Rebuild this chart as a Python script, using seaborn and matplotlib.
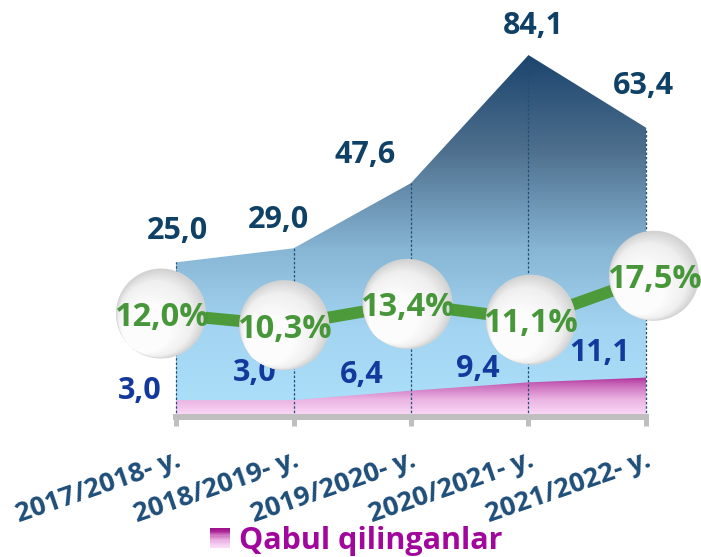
import numpy as np
import pandas as pd
import matplotlib
matplotlib.use("Agg")
import matplotlib.pyplot as plt
import seaborn as sns
from matplotlib.colors import LinearSegmentedColormap, to_rgb
from matplotlib.transforms import ScaledTranslation, blended_transform_factory
from matplotlib.legend_handler import HandlerBase
from matplotlib.patches import Rectangle

# data
years = ["2017/2018- y.", "2018/2019- y.", "2019/2020- y.", "2020/2021- y.", "2021/2022- y."]
total = [25.0, 29.0, 47.6, 84.1, 63.4]          # big blue area
accepted = [3.0, 3.0, 6.4, 9.4, 11.1]            # pink area "Qabul qilinganlar"
share = [12.0, 10.3, 13.4, 11.1, 17.5]           # green line, %

# label offsets in pixels (dx, dy up)
total_off = [(1, 31), (-15, 28), (-46, 28), (5, 29), (-3, 42)]
acc_off = [(-36, 9), (-39, 27), (-49, 16), (-51, 13), (-46, 25)]

NAVY = "#0f4065"
BLUE_TXT = "#12399b"
GREEN = "#4c9a3a"
GREEN_TXT = "#47973a"
TICK_TXT = "#1f4e79"
MAGENTA = "#a1079c"


def fmt(v):
    return f"{v:.1f}".replace(".", ",")


def px(p):
    return p * 0.72


sns.set_theme(style="white")
plt.rcParams["font.family"] = ["Open Sans", "DejaVu Sans"]

df = pd.DataFrame({"year": years, "pos": np.arange(len(years)),
                   "total": total, "accepted": accepted, "share": share})

fig = plt.figure(figsize=(7.01, 5.57), dpi=100)
main_rect = [150 / 701, 140 / 557, 522 / 701, 397 / 557]
ax_tot = fig.add_axes(main_rect, label="total")
ax_acc = fig.add_axes(main_rect, label="accepted")
ax_pct = fig.add_axes([0, 0, 1, 1], label="pct")

xlim_main = (-0.2213, 4.2213)
tot_lim = (-19.1, 94.1)
acc_lim = (-3.06, 139.7)
# share axis spans the whole figure (px 557 at bottom, 0 at top)
pct_lim = (12.86 - (557 - 307.6) / 6.875, 12.86 + 307.6 / 6.875)
pct_xlim = (-161 / 123.25, (701 - 161) / 123.25)

grad = np.linspace(0, 1, 256).reshape(-1, 1)

# ---- big blue area with vertical gradient
blue_cmap = LinearSegmentedColormap.from_list(
    "blue", [(0, "#ade0fa"), (0.22, "#a3d5f2"), (0.42, "#88b6d5"),
             (0.67, "#4e708e"), (0.935, "#17406a"), (1, "#123a60")])
poly = ax_tot.fill_between(df["pos"], df["total"], tot_lim[0], facecolor="none", edgecolor="none")
im = ax_tot.imshow(grad, extent=[*xlim_main, *tot_lim], origin="lower", aspect="auto",
                   cmap=blue_cmap, zorder=0)
im.set_clip_path(poly.get_paths()[0], transform=ax_tot.transData)
ax_tot.set_xlim(xlim_main)
ax_tot.set_ylim(tot_lim)
ax_tot.axis("off")

for xi, v, (dx, dy) in zip(df["pos"], total, total_off):
    ax_tot.annotate(fmt(v), (xi, v), xytext=(px(dx), px(dy)), textcoords="offset points",
                    ha="center", va="center", fontsize=22, fontweight="bold", color=NAVY)

# ---- pink area
pink_colors = [(0, "#fcdcf8"), (0.043, "#eab3e2"), (0.081, "#c867b8"),
               (0.106, "#a3168f"), (0.2, "#8a0078"), (1, "#8a0078")]
pink_cmap = LinearSegmentedColormap.from_list("pink", pink_colors)
ax_acc.patch.set_alpha(0)
poly2 = ax_acc.fill_between(df["pos"], df["accepted"], acc_lim[0], facecolor="none",
                            edgecolor="none", label="Qabul qilinganlar")
im2 = ax_acc.imshow(grad, extent=[*xlim_main, *acc_lim], origin="lower", aspect="auto",
                    cmap=pink_cmap, zorder=0)
im2.set_clip_path(poly2.get_paths()[0], transform=ax_acc.transData)
ax_acc.set_xlim(xlim_main)
ax_acc.set_ylim(acc_lim)

# dotted drop lines up to the blue area top
drop_tr = blended_transform_factory(ax_acc.transData, ax_tot.transData)
for xi, v in zip(df["pos"], total):
    ax_acc.plot([xi, xi], [tot_lim[0], v], transform=drop_tr, color="#1f4e79",
                lw=0.9, ls=(0, (2, 1.5)), zorder=1)

for xi, v, (dx, dy) in zip(df["pos"], accepted, acc_off):
    ax_acc.annotate(fmt(v), (xi, v), xytext=(px(dx), px(dy)), textcoords="offset points",
                    ha="center", va="center", fontsize=22, fontweight="bold", color=BLUE_TXT)

sns.despine(ax=ax_acc, left=True)
ax_acc.spines["bottom"].set_color("#bfbfbf")
ax_acc.spines["bottom"].set_linewidth(4.3)
ax_acc.spines["bottom"].set_bounds(0, 4)
ax_acc.set_yticks([])
ax_acc.set_xticks(df["pos"], years, rotation=19, ha="right", rotation_mode="anchor",
                  fontsize=19.5, fontweight="bold", color=TICK_TXT)
ax_acc.tick_params(axis="x", bottom=True, direction="out", length=6.5, width=3.6,
                   color="#bfbfbf", pad=15)
ax_acc.set_xlabel("")
ax_acc.set_ylabel("")
ax_acc.grid(False)

# ---- green share line with shiny bubbles
ax_pct.patch.set_alpha(0)
sns.lineplot(data=df, x="pos", y="share", ax=ax_pct, color=GREEN, linewidth=8.6, zorder=2)
ax_pct.set_xlim(pct_xlim)
ax_pct.set_ylim(pct_lim)
ax_pct.axis("off")

c_edge = np.array(to_rgb("#d3d3d3"))
c_mid = np.array(to_rgb("#efefef"))
c_light = np.array(to_rgb("#fcfcfc"))
n_layers = 30
D = 90
for i in range(n_layers):
    t = i / (n_layers - 1)
    d = D * (1 - 0.85 * t)
    shift = (D - d) / 2 / np.sqrt(2)
    if t < 0.18:
        col = c_edge + (c_mid - c_edge) * t / 0.18
    else:
        col = c_mid + (c_light - c_mid) * min(1, (t - 0.18) / 0.35)
    tr = ax_pct.transData + ScaledTranslation(-px(shift) / 72, -px(shift) / 72, fig.dpi_scale_trans)
    ax_pct.scatter(df["pos"], df["share"], s=px(d) ** 2, color=col, edgecolor="none",
                   transform=tr, zorder=3 + i * 0.01)

for xi, v in zip(df["pos"], share):
    ax_pct.annotate(fmt(v) + "%", (xi, v), xytext=(0, px(-4)), textcoords="offset points",
                    ha="center", va="center", fontsize=23.5, fontweight="bold",
                    color=GREEN_TXT, zorder=5)


# ---- legend with a gradient square
class GradientSquare(HandlerBase):
    def create_artists(self, legend, orig_handle, xdescent, ydescent, width, height,
                       fontsize, trans):
        side = min(width, height)
        x0 = -xdescent + (width - side) / 2
        y0 = -ydescent + (height - side) / 2
        n = 16
        out = []
        for k in range(n):
            c = pink_cmap(0.12 * (1 - k / (n - 1)))
            out.append(Rectangle((x0, y0 + side * (n - 1 - k) / n), side, side / n + 0.3,
                                 facecolor=c, edgecolor="none", transform=trans))
        return out


fig.legend(handles=[poly2], labels=["Qabul qilinganlar"], loc="center",
           bbox_to_anchor=(356 / 701, 1 - 541 / 557), frameon=False,
           handler_map={poly2: GradientSquare()}, handlelength=0.65, handleheight=0.65,
           handletextpad=0.3, labelcolor=MAGENTA,
           prop={"weight": "bold", "size": 22})

fig.savefig("out.png", dpi=100)
